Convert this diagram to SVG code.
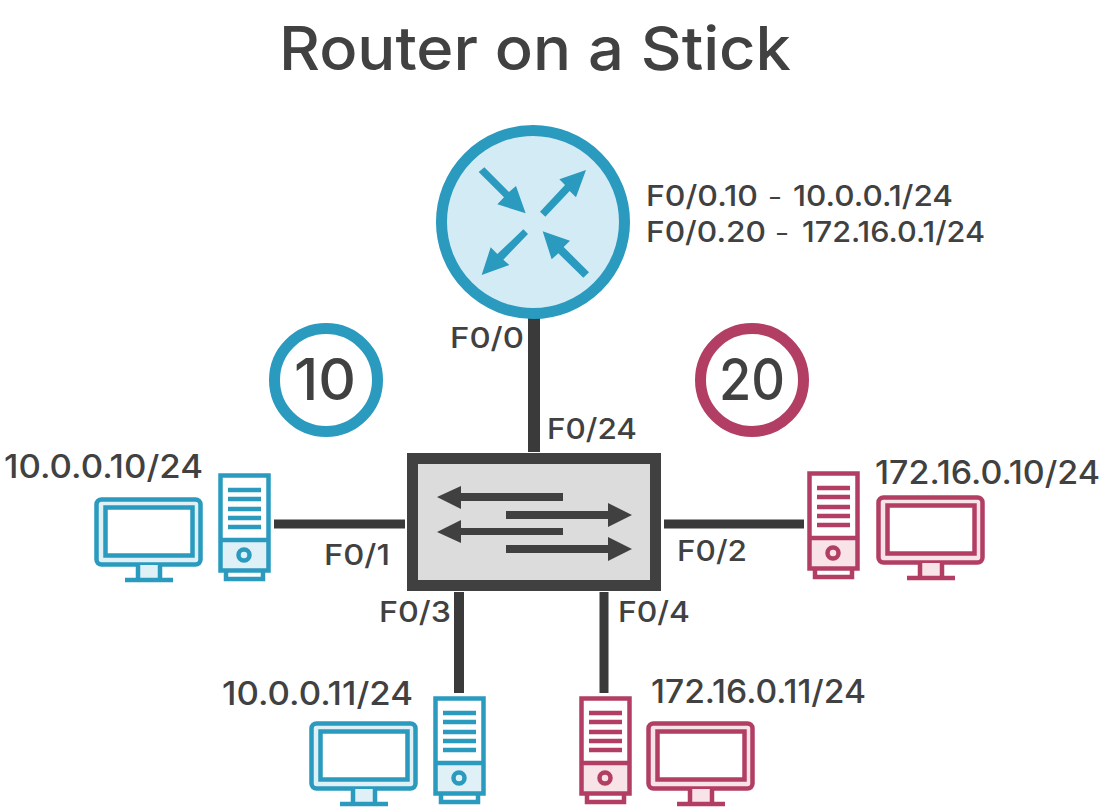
<svg xmlns="http://www.w3.org/2000/svg" width="1107" height="811" viewBox="0 0 1107 811">
<style>
text{font-family:"Inter","Liberation Sans",sans-serif;fill:#414141;font-weight:500}
.lb{font-size:29px}
.ip{font-size:32px}
.title{font-size:60px;font-weight:500}
.vl{font-size:57px;font-weight:500}
.blue{--c:#2a9abf;--l:#dff0f7}
.red{--c:#b23f63;--l:#f8e3e9}
.s{stroke:var(--c);fill:none;stroke-width:4.500}
.f{fill:var(--l)}
.w{fill:#fff}
.cn{stroke:#3a3a3a;fill:none}
</style>
<defs>
<g id="tower">
<rect x="2.500" y="2.500" width="48" height="95" class="w"/>
<rect x="2.500" y="67" width="48" height="31" class="f"/>
<rect x="2.500" y="2.500" width="48" height="95" class="s"/>
<path class="s" d="M2 67H51M10 17H43M10 26H43M10 36H43M10 45H43M10 54H43M8 98V106H45V98"/>
<circle cx="26" cy="82" r="5.500" class="s"/>
</g>
<g id="monitor">
<rect x="2.500" y="2.500" width="104" height="65" rx="5" class="f"/>
<rect x="2.500" y="2.500" width="104" height="65" rx="5" class="s"/>
<rect x="11.500" y="10.500" width="87" height="48" class="w"/>
<rect x="11.500" y="10.500" width="87" height="48" class="s"/>
<rect x="44" y="68" width="22" height="13" class="f"/>
<path class="s" d="M44 68V81M66 68V81M31 83H79"/>
</g>
</defs>
<text class="title" x="279" y="70" textLength="512" lengthAdjust="spacingAndGlyphs">Router on a Stick</text>
<g id="connectors" class="cn">
<path stroke-width="12" d="M534 316V452"/>
<path stroke-width="9" d="M274 524H405"/>
<path stroke-width="9" d="M664 524H804"/>
<path stroke-width="10" d="M459 592V693"/>
<path stroke-width="9" d="M604 592V693"/>
</g>
<g id="router">
<circle cx="533" cy="222" r="91.500" fill="#d3ebf5" stroke="#2a9abf" stroke-width="11"/>
<g transform="translate(420 110) scale(.33333)" fill="#2a9abf">
<polygon points="176,186 193,172 267,246 288,228 317,310 232,283 252,262"/>
<polygon points="498,180 468,262 449,243 376,320 360,305 435,225 418,208"/>
<polygon points="185,495 212,412 232,432 310,358 324,372 250,449 268,465"/>
<polygon points="368,364 450,392 431,411 507,487 490,503 415,430 395,448"/>
</g>
<text class="lb" y="206"><tspan x="646" textLength="112" lengthAdjust="spacingAndGlyphs">F0/0.10</tspan> <tspan x="770" dy="-2" font-size="20">–</tspan> <tspan x="793" dy="2" textLength="160" lengthAdjust="spacingAndGlyphs">10.0.0.1/24</tspan></text>
<text class="lb" y="242"><tspan x="646" textLength="120" lengthAdjust="spacingAndGlyphs">F0/0.20</tspan> <tspan x="777" dy="-2" font-size="20">–</tspan> <tspan x="802" dy="2" textLength="183" lengthAdjust="spacingAndGlyphs">172.16.0.1/24</tspan></text>
</g>
<g id="switch">
<rect x="412.500" y="458.500" width="243" height="127" fill="#dcdcdc" stroke="#404040" stroke-width="11"/>
<g fill="#404040">
<polygon points="437,497 461,486 461,493 563,493 563,501 461,501 461,509"/>
<polygon points="632,515 608,503 608,511 506,511 506,519 608,519 608,527"/>
<polygon points="437,532 461,520 461,528 563,528 563,535 461,535 461,543"/>
<polygon points="632,549 608,537 608,545 506,545 506,553 608,553 608,561"/>
</g>
</g>
<g id="vlan10"><circle cx="326" cy="380" r="51.500" fill="#fff" stroke="#2a9abf" stroke-width="11"/><text class="vl" x="294" y="400" textLength="62" lengthAdjust="spacingAndGlyphs">10</text></g>
<g id="vlan20"><circle cx="752" cy="380" r="51.500" fill="#fff" stroke="#b23f63" stroke-width="11"/><text class="vl" x="719" y="400" textLength="66" lengthAdjust="spacingAndGlyphs">20</text></g>
<g id="pc-10-10" class="blue">
<use href="#tower" x="218" y="473"/><use href="#monitor" x="94" y="497"/>
<text class="ip" x="4" y="478" textLength="199" lengthAdjust="spacingAndGlyphs">10.0.0.10/24</text>
</g>
<g id="pc-172-10" class="red">
<use href="#tower" x="807" y="471"/><use href="#monitor" x="876" y="495"/>
<text class="ip" x="875" y="484" textLength="225" lengthAdjust="spacingAndGlyphs">172.16.0.10/24</text>
</g>
<g id="pc-10-11" class="blue">
<use href="#tower" x="433" y="696"/><use href="#monitor" x="309" y="721"/>
<text class="ip" x="222" y="705" textLength="191" lengthAdjust="spacingAndGlyphs">10.0.0.11/24</text>
</g>
<g id="pc-172-11" class="red">
<use href="#tower" x="579" y="696"/><use href="#monitor" x="646" y="721"/>
<text class="ip" x="651" y="703" textLength="215" lengthAdjust="spacingAndGlyphs">172.16.0.11/24</text>
</g>
<g id="port-labels">
<text class="lb" x="450" y="348" textLength="74" lengthAdjust="spacingAndGlyphs">F0/0</text>
<text class="lb" x="547" y="439" textLength="90" lengthAdjust="spacingAndGlyphs">F0/24</text>
<text class="lb" x="324" y="565" textLength="66" lengthAdjust="spacingAndGlyphs">F0/1</text>
<text class="lb" x="677" y="561" textLength="70" lengthAdjust="spacingAndGlyphs">F0/2</text>
<text class="lb" x="379" y="622" textLength="72" lengthAdjust="spacingAndGlyphs">F0/3</text>
<text class="lb" x="618" y="622" textLength="72" lengthAdjust="spacingAndGlyphs">F0/4</text>
</g>
</svg>
